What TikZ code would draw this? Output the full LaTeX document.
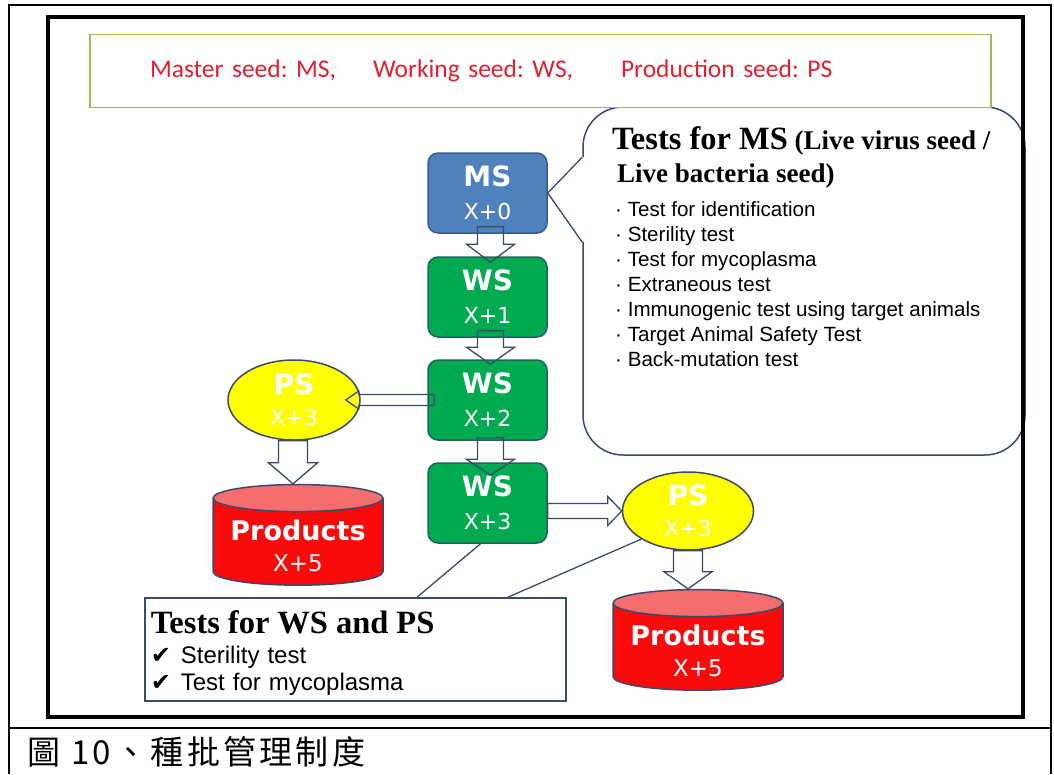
\documentclass[tikz,border=0pt]{standalone}
\usepackage{fontspec}
\usepackage{tikz}
\usetikzlibrary{positioning, calc, shapes.geometric}
\newfontfamily\keyfont{Carlito}
\newfontfamily\boxfont{DejaVu Sans}
\newfontfamily\listfont{Liberation Sans}
\newfontfamily\headfont{Liberation Serif}
\newfontfamily\capfont{Noto Sans CJK TC}[LetterSpace=10]
\definecolor{msblue}{RGB}{79,129,189}
\definecolor{msedge}{RGB}{56,93,138}
\definecolor{wsgreen}{RGB}{0,170,80}
\definecolor{wsedge}{RGB}{35,100,90}
\definecolor{edge}{RGB}{59,74,107}
\definecolor{psyellow}{RGB}{255,255,0}
\definecolor{prodred}{RGB}{250,10,10}
\definecolor{prodtop}{RGB}{244,110,110}
\definecolor{keygreen}{RGB}{155,187,89}
\definecolor{keyred}{RGB}{226,32,46}
\frenchspacing
% hollow block arrow: start, tip, shaft half width, head half width, head length
\newcommand{\hollowarrow}[5]{%
  \coordinate (hs) at #1;
  \coordinate (ht) at #2;
  \coordinate (hb) at ($(ht)!#5!(hs)$);
  \draw[hollow] ($(hs)!#3!90:(ht)$) -- ($(hb)!#3!90:(ht)$) -- ($(hb)!#4!90:(ht)$)
    -- (ht) -- ($(hb)!#4!-90:(ht)$) -- ($(hb)!#3!-90:(ht)$) -- ($(hs)!#3!-90:(ht)$) -- cycle;
}

\begin{document}
\begin{tikzpicture}[x=1pt, y=-1pt,
  msbox/.style={draw=msedge, fill=msblue, line width=1.5pt, rounded corners=10pt,
    minimum width=119pt, minimum height=80pt, inner sep=0pt, align=center,
    text=white, font=\boxfont\fontsize{22}{33}\selectfont},
  wsbox/.style={msbox, draw=wsedge, fill=wsgreen},
  psoval/.style={ellipse, draw=edge, fill=psyellow, line width=1.5pt, inner sep=0pt,
    align=center, text=white, font=\boxfont\fontsize{22}{31}\selectfont},
  product/.style={cylinder, shape border rotate=90, aspect=0.2, draw=edge, line width=1.5pt,
    cylinder uses custom fill, cylinder body fill=prodred, cylinder end fill=prodtop,
    minimum width=170pt, minimum height=94pt, inner sep=0pt, align=center,
    text=white, font=\boxfont\fontsize{23}{31}\selectfont},
  bubble/.style={draw=edge, fill=white, line width=1.5pt, rounded corners=40pt,
    minimum width=442pt, minimum height=348pt},
  keybox/.style={draw=keygreen, fill=white, line width=1.5pt, minimum height=73pt,
    text width=781pt, inner xsep=60pt, align=left, text=keyred,
    font=\keyfont\fontsize{25.5}{30}\selectfont},
  testbox/.style={draw=edge, fill=white, line width=1.5pt, minimum height=103pt,
    text width=409pt, inner xsep=6pt, align=left, font=\listfont\fontsize{24}{27}\selectfont},
  hollow/.style={draw=edge, line width=1.3pt},
  link/.style={draw=edge, line width=1.3pt},
  rule/.style={draw=black, line width=1.5pt}]
  \useasboundingbox (0,0) rectangle (1054,774);

  % table and frame
  \draw[rule] (9,774) -- (9,5) -- (1051,5) -- (1051,774);
  \draw[rule] (9,728) -- (1051,728);
  \node[anchor=west, font=\capfont\fontsize{33}{33}\selectfont] (caption) at (24,752) {圖 10、種批管理制度};

  % callout for MS
  \node[bubble] (msbubble) at (804,281) {};
  \node[anchor=north west, inner sep=0pt, align=left, font=\headfont\bfseries\fontsize{27}{33}\selectfont]
    (mstitle) at (612,126) {{\fontsize{32.5}{33}\selectfont Tests for MS} (Live virus seed /\\ \hspace*{5pt}Live bacteria seed)};
  \node[anchor=north west, inner sep=0pt, align=left, font=\listfont\fontsize{20.6}{25}\selectfont]
    (mslist) at (615,201) {· Test for identification\\ · Sterility test\\ · Test for mycoplasma\\
    · Extraneous test\\ · Immunogenic test using target animals\\ · Target Animal Safety Test\\
    · Back-mutation test};

  % key
  \node[keybox] (header) at (540.5,71) {Master seed: MS,\hspace{37pt}Working seed: WS,\hspace{48pt}Production seed: PS};

  % seeds
  \node[msbox] (ms) at (487.5,193) {{\bfseries\fontsize{28}{33}\selectfont MS}\\X+0};
  \node[wsbox] (ws1) at (487.5,297) {{\bfseries\fontsize{28}{33}\selectfont WS}\\X+1};
  \node[wsbox] (ws2) at (487.5,400) {{\bfseries\fontsize{28}{33}\selectfont WS}\\X+2};
  \node[wsbox] (ws3) at (487.5,503) {{\bfseries\fontsize{28}{33}\selectfont WS}\\X+3};
  \node[psoval, minimum width=132pt, minimum height=80pt] (psl) at (294,400) {{\bfseries\fontsize{28}{31}\selectfont PS}\\X+3};
  \node[psoval, minimum width=131pt, minimum height=78pt] (psr) at (688,511) {{\bfseries\fontsize{28}{31}\selectfont PS}\\X+3};
  \node[product] (prodl) at (298,542) {\rule{0pt}{28pt}{\bfseries\fontsize{27}{31}\selectfont Products}\\X+5};
  \node[product] (prodr) at (698,647) {\rule{0pt}{28pt}{\bfseries\fontsize{27}{31}\selectfont Products}\\X+5};

  % tail of the callout
  \fill[white] ($(msbubble.north west)+(-2,51)$) rectangle ($(msbubble.north west)+(2,136)$);
  \draw[link] ($(msbubble.north west)+(0,51)$) -- (ms.east) -- ($(msbubble.north west)+(0,136)$);

  % block arrows
  \hollowarrow{($(ms.south)+(3,-7)$)}{($(ws1.north)+(3,6)$)}{13pt}{24pt}{18pt}
  \hollowarrow{($(ws1.south)+(3,-7)$)}{($(ws2.north)+(3,5)$)}{13pt}{24pt}{17pt}
  \hollowarrow{($(ws2.south)+(3,-3)$)}{($(ws3.north)+(3,13)$)}{13pt}{24pt}{16pt}
  \hollowarrow{($(ws2.west)+(7,0)$)}{($(psl.east)+(-15,0)$)}{5.5pt}{9pt}{13pt}
  \hollowarrow{($(ws3.east)+(0,8)$)}{(psr.west)}{7.5pt}{14.5pt}{14pt}
  \hollowarrow{($(psl.south)+(-1,0)$)}{($(prodl.north)+(-5,0)$)}{14.5pt}{24.5pt}{21pt}
  \hollowarrow{(psr.south)}{($(prodr.north)+(-10,0)$)}{14.5pt}{24pt}{17pt}

  % tests for WS and PS
  \node[testbox, anchor=north west] (wstests) at (144,597)
    {\rule{0pt}{30pt}{\headfont\bfseries\fontsize{32.5}{32}\selectfont Tests for WS and PS}\\[3pt]
     {\boxfont ✔}\hspace{10pt}Sterility test\\
     {\boxfont ✔}\hspace{10pt}Test for mycoplasma};
  \draw[link] ($(ws3.south)+(-7,0)$) -- ($(wstests.north)+(62,0)$);
  \draw[link] (psr.211) -- ($(wstests.north)+(153,0)$);

  % picture frame
  \draw[black, line width=4pt] (48,17) rectangle (1023,717);
\end{tikzpicture}
\end{document}
